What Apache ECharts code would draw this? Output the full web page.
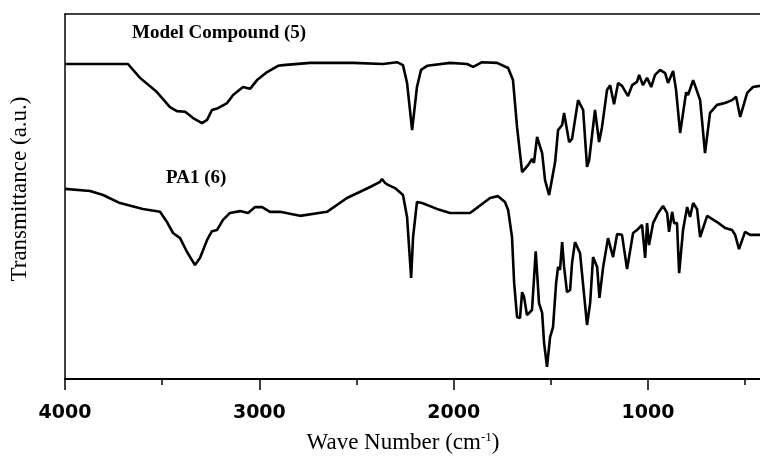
<!DOCTYPE html>
<html>
<head>
<meta charset="utf-8">
<script src="https://cdn.jsdelivr.net/npm/echarts@6/dist/echarts.min.js"></script>
<style>html,body{margin:0;padding:0;background:#fff;}#c{width:760px;height:457px;}</style>
</head>
<body>
<div id="c"></div>
<script>
// X axis ticks (wave number, cm^-1)
var xTickLabels = [1000, 2000, 3000, 4000];
var xMinorTicks = [500, 1500, 2500, 3500];
var xRange = [424, 4000];

// Series labels
var seriesNames = ['Model Compound (5)', 'PA1 (6)'];

// Model Compound (5): wave numbers and transmittance (a.u.)
var modelWn = [4000,3676,3614,3527,3460,3424,3382,3341,3295,3269,3244,3213,3166,3135,3084,3048,3012,2960,2904,2878,2739,2518,2364,2292,2261,2240,2214,2189,2168,2137,2019,1931,1900,1854,1777,1720,1695,1674,1648,1617,1597,1587,1571,1545,1530,1509,1478,1463,1442,1432,1406,1391,1360,1334,1314,1303,1273,1252,1237,1211,1195,1175,1154,1134,1103,1082,1057,1046,1026,1005,984,964,938,912,897,871,856,835,804,794,768,732,707,681,645,604,568,547,526,490,460,424];
var modelT = [86.3,86.3,82.5,78.6,74.5,73.4,73.2,71.5,70.1,71.0,73.7,74.2,75.6,77.8,80.0,79.5,81.9,84.1,85.8,86.0,86.6,86.6,86.3,86.8,86.0,81.1,68.2,80.0,84.7,85.8,86.6,86.3,85.5,86.8,86.6,85.2,81.9,69.0,56.7,58.6,60.3,59.2,66.3,61.9,54.5,50.4,59.5,68.2,69.6,72.9,64.9,65.8,76.4,73.7,58.1,60.0,73.7,64.9,69.0,79.2,80.5,75.3,81.1,80.3,77.5,80.5,81.4,83.3,80.5,82.5,80.0,83.3,84.7,83.8,81.1,84.4,79.2,67.4,78.6,77.8,81.9,76.4,61.9,72.9,75.1,75.6,76.4,77.3,71.8,78.4,80.0,80.3];

// PA1 (6): wave numbers and transmittance (a.u.)
var pa1Wn = [4000,3871,3804,3717,3599,3511,3475,3444,3408,3372,3331,3305,3269,3244,3218,3187,3151,3099,3058,3022,2986,2945,2894,2791,2652,2549,2430,2379,2369,2353,2338,2302,2261,2240,2219,2209,2189,2163,2086,2019,1916,1875,1813,1772,1736,1720,1700,1689,1674,1659,1648,1638,1623,1597,1578,1561,1545,1535,1520,1504,1489,1473,1463,1453,1442,1432,1417,1401,1391,1376,1350,1314,1298,1283,1262,1250,1231,1206,1180,1159,1134,1108,1077,1057,1031,1021,1015,1005,995,974,948,923,902,892,876,866,851,840,820,799,784,768,748,732,696,645,604,568,552,532,501,475,424];
var pa1T = [52.1,51.5,50.4,48.2,46.6,45.8,43.0,40.0,38.6,34.8,31.2,33.2,38.1,40.5,40.8,43.6,45.5,46.0,45.5,47.1,47.1,45.8,45.8,44.7,45.8,49.6,52.6,54.0,54.8,53.7,53.2,52.3,50.4,44.4,27.7,38.9,48.5,48.2,46.6,45.5,45.5,47.1,49.6,50.1,48.5,46.3,38.9,26.3,17.0,16.7,23.8,22.5,17.5,18.9,35.0,20.8,18.1,9.9,3.3,11.5,14.2,26.3,30.7,29.9,37.5,30.7,23.8,24.4,31.8,37.5,34.5,14.8,20.8,33.4,30.7,22.2,30.7,38.6,33.4,39.7,39.5,30.1,40.0,40.8,42.2,42.5,33.2,42.7,36.7,42.7,45.5,47.4,45.5,40.3,45.8,42.7,42.7,29.0,40.8,47.1,44.4,48.2,46.6,38.9,44.7,43.0,41.4,40.8,39.5,35.6,40.3,39.5,39.5];

function zip(a, b) { return a.map(function (v, i) { return [v, b[i]]; }); }

var baseX = {type: 'value', inverse: true, min: xRange[0], max: xRange[1], splitLine: {show: false}};

var chart = echarts.init(document.getElementById('c'), null, {renderer: 'canvas'});
chart.setOption({
  animation: false,
  backgroundColor: '#fff',
  grid: {left: 65, top: 14, right: 0, bottom: 78, containLabel: false},
  xAxis: [
    Object.assign({}, baseX, {
      position: 'bottom',
      axisLine: {show: true, onZero: false, lineStyle: {color: '#000', width: 2}},
      axisTick: {show: true, inside: false, length: 11, customValues: xTickLabels, lineStyle: {color: '#000', width: 1.5}},
      axisLabel: {show: true, margin: 25, customValues: xTickLabels, color: '#000', fontFamily: 'DejaVu Sans', fontWeight: 'bold', fontSize: 19,
                  formatter: function (v) { return String(v); }}
    }),
    Object.assign({}, baseX, {
      position: 'bottom', offset: 0,
      axisLine: {show: false},
      axisTick: {show: true, inside: false, length: 6, customValues: xMinorTicks, lineStyle: {color: '#000', width: 1.5}},
      axisLabel: {show: false}
    }),
    Object.assign({}, baseX, {
      position: 'top', offset: 0,
      axisLine: {show: true, onZero: false, lineStyle: {color: '#000', width: 1.5}},
      axisTick: {show: false}, axisLabel: {show: false}
    })
  ],
  yAxis: {
    type: 'value', min: 0, max: 100,
    axisLine: {show: true, onZero: false, lineStyle: {color: '#000', width: 1.5}},
    axisTick: {show: false}, axisLabel: {show: false}, splitLine: {show: false}
  },
  series: [
    {name: seriesNames[0], type: 'line', xAxisIndex: 0, data: zip(modelWn, modelT), showSymbol: false, clip: true,
     lineStyle: {color: '#000', width: 2.6}, itemStyle: {color: '#000'}},
    {name: seriesNames[1], type: 'line', xAxisIndex: 0, data: zip(pa1Wn, pa1T), showSymbol: false, clip: true,
     lineStyle: {color: '#000', width: 2.6}, itemStyle: {color: '#000'}}
  ],
  graphic: [
    {type: 'text', left: 132, top: 24, style: {text: seriesNames[0], fill: '#000', font: 'bold 19px "Liberation Serif"'}},
    {type: 'text', left: 166, top: 169, style: {text: seriesNames[1], fill: '#000', font: 'bold 19px "Liberation Serif"'}},
    {type: 'text', x: 403, y: 443, style: {
      text: '{a|Wave Number (cm}{s|-1}{a|)}', align: 'center', verticalAlign: 'middle',
      rich: {
        a: {fontFamily: 'Liberation Serif', fontSize: 23, fill: '#000', color: '#000'},
        s: {fontFamily: 'Liberation Serif', fontSize: 13, fill: '#000', color: '#000', verticalAlign: 'top', padding: [0, 0, 10, 0]}
      }
    }},
    {type: 'text', x: 20, y: 189, rotation: Math.PI / 2, style: {
      text: 'Transmittance (a.u.)', fill: '#000', font: '23px "Liberation Serif"', align: 'center', verticalAlign: 'middle'
    }}
  ]
});
</script>
</body>
</html>
